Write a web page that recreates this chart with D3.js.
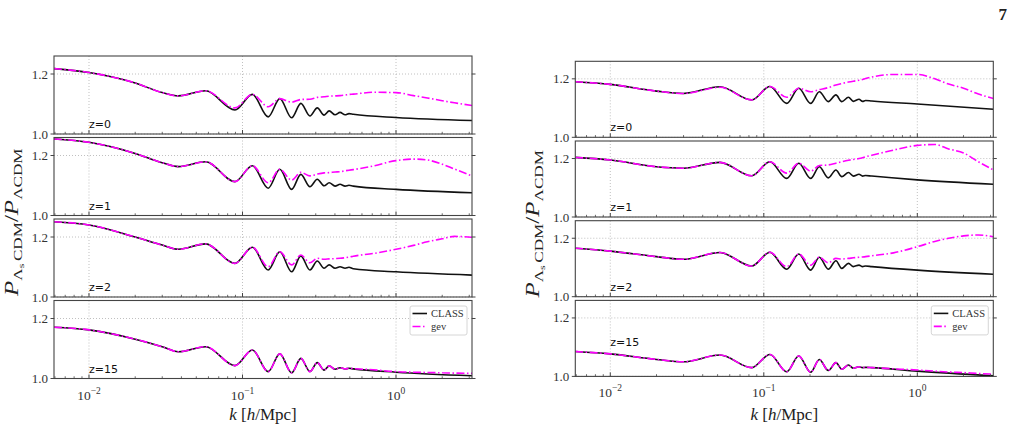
<!DOCTYPE html>
<html><head><meta charset="utf-8">
<script src="https://cdn.jsdelivr.net/npm/d3@7"></script>
<style>body{margin:0;background:#fff} svg{display:block}</style>
</head><body>
<svg id="c" width="1016" height="430"></svg>
<script>
// ---------- data ----------
const kTicks = [0.01, 0.1, 1];
const kTickExp = ["\u22122", "\u22121", "0"];
const yTicks = [1.0, 1.2];
const yTickLabels = ["1.0", "1.2"];
const zLabels = ["z=0", "z=1", "z=2", "z=15"];
const zLabelYLeft = [1.02, 1.02, 1.02, 1.02];
const zLabelYRight = [1.02, 1.02, 1.02, 1.105];
const seriesNames = ["CLASS", "gev"];
const kDomain = [0.005916, 3.126];
const yDomain = [1.0, 1.26];
const pageNumber = "7";

// left figure
const kClassL = [0.0059, 0.01, 0.02, 0.03, 0.0382, 0.0575, 0.0893, 0.116, 0.147, 0.175, 0.209, 0.240, 0.275, 0.307, 0.340, 0.367, 0.401, 0.432, 0.466, 0.494, 0.527, 1.0, 3.13];
const classL0  = [1.218, 1.205, 1.170, 1.138, 1.127, 1.144, 1.080, 1.132, 1.057, 1.118, 1.054, 1.102, 1.060, 1.087, 1.063, 1.077, 1.064, 1.072, 1.064, 1.068, 1.066, 1.055, 1.045];
const classL1  = [1.255, 1.244, 1.207, 1.176, 1.163, 1.179, 1.113, 1.166, 1.091, 1.154, 1.087, 1.137, 1.096, 1.121, 1.099, 1.109, 1.098, 1.104, 1.098, 1.101, 1.098, 1.087, 1.076];
const classL2  = [1.251, 1.240, 1.200, 1.173, 1.159, 1.177, 1.112, 1.166, 1.090, 1.151, 1.084, 1.137, 1.090, 1.120, 1.096, 1.107, 1.096, 1.101, 1.096, 1.099, 1.094, 1.084, 1.073];
const classL15 = [1.171, 1.162, 1.131, 1.106, 1.089, 1.106, 1.043, 1.095, 1.023, 1.082, 1.019, 1.067, 1.023, 1.053, 1.028, 1.042, 1.031, 1.036, 1.032, 1.034, 1.032, 1.021, 1.009];

const kGevL = [0.0059, 0.01, 0.02, 0.03, 0.0382, 0.0575, 0.0893, 0.116, 0.147, 0.175, 0.209, 0.240, 0.275, 0.307, 0.340, 0.367, 0.401, 0.432, 0.466, 0.494, 0.527, 0.71, 1.0, 1.3, 1.6, 2.0, 2.4, 3.13];
const gevL0  = [1.218, 1.205, 1.170, 1.138, 1.127, 1.144, 1.087, 1.132, 1.091, 1.118, 1.106, 1.115, 1.116, 1.122, 1.124, 1.126, 1.127, 1.128, 1.130, 1.132, 1.133, 1.139, 1.138, 1.128, 1.120, 1.111, 1.104, 1.095];
const gevL1  = [1.255, 1.244, 1.207, 1.176, 1.163, 1.179, 1.113, 1.166, 1.109, 1.154, 1.118, 1.144, 1.132, 1.138, 1.142, 1.143, 1.145, 1.146, 1.149, 1.151, 1.153, 1.165, 1.183, 1.188, 1.185, 1.171, 1.155, 1.132];
const gevL2  = [1.251, 1.240, 1.200, 1.173, 1.159, 1.177, 1.112, 1.166, 1.101, 1.151, 1.107, 1.140, 1.114, 1.129, 1.126, 1.127, 1.128, 1.129, 1.131, 1.133, 1.136, 1.145, 1.159, 1.172, 1.184, 1.194, 1.202, 1.199];
const gevL15 = [1.171, 1.162, 1.131, 1.106, 1.089, 1.106, 1.043, 1.095, 1.023, 1.082, 1.019, 1.067, 1.023, 1.053, 1.028, 1.042, 1.031, 1.036, 1.032, 1.034, 1.033, 1.029, 1.023, 1.021, 1.020, 1.019, 1.018, 1.017];

// right figure
const kClassR = [0.0059, 0.01, 0.02, 0.0299, 0.0518, 0.0834, 0.1096, 0.141, 0.169, 0.202, 0.230, 0.263, 0.295, 0.322, 0.356, 0.383, 0.417, 0.44, 0.46, 0.505, 1.0, 3.13];
const classR0  = [1.190, 1.181, 1.158, 1.150, 1.173, 1.128, 1.174, 1.116, 1.168, 1.116, 1.156, 1.122, 1.145, 1.122, 1.137, 1.123, 1.130, 1.123, 1.126, 1.124, 1.114, 1.096];
const classR1  = [1.204, 1.195, 1.172, 1.167, 1.187, 1.141, 1.189, 1.132, 1.184, 1.132, 1.172, 1.134, 1.161, 1.138, 1.152, 1.140, 1.146, 1.140, 1.142, 1.140, 1.127, 1.112];
const classR2  = [1.166, 1.156, 1.137, 1.128, 1.151, 1.105, 1.152, 1.094, 1.146, 1.091, 1.135, 1.094, 1.123, 1.097, 1.114, 1.103, 1.108, 1.103, 1.105, 1.103, 1.091, 1.077];
const classR15 = [1.085, 1.077, 1.058, 1.050, 1.073, 1.030, 1.075, 1.016, 1.070, 1.014, 1.058, 1.020, 1.047, 1.025, 1.039, 1.028, 1.033, 1.030, 1.031, 1.030, 1.018, 1.002];

const kGevR = [0.0059, 0.01, 0.02, 0.0299, 0.0518, 0.0834, 0.1096, 0.141, 0.169, 0.202, 0.230, 0.263, 0.295, 0.322, 0.356, 0.383, 0.417, 0.44, 0.46, 0.505, 0.7, 1.0, 1.3, 1.6, 2.0, 2.5, 3.13];
const gevR0  = [1.190, 1.181, 1.158, 1.150, 1.171, 1.128, 1.174, 1.137, 1.168, 1.156, 1.163, 1.170, 1.179, 1.184, 1.189, 1.192, 1.195, 1.198, 1.201, 1.206, 1.215, 1.215, 1.200, 1.182, 1.168, 1.148, 1.133];
const gevR1  = [1.204, 1.195, 1.172, 1.167, 1.187, 1.141, 1.189, 1.150, 1.184, 1.157, 1.176, 1.178, 1.184, 1.189, 1.194, 1.197, 1.200, 1.203, 1.206, 1.211, 1.229, 1.245, 1.248, 1.233, 1.219, 1.189, 1.161];
const gevR2  = [1.166, 1.156, 1.137, 1.128, 1.151, 1.105, 1.152, 1.103, 1.146, 1.108, 1.135, 1.116, 1.131, 1.129, 1.131, 1.133, 1.135, 1.136, 1.137, 1.140, 1.150, 1.171, 1.189, 1.200, 1.208, 1.211, 1.205];
const gevR15 = [1.085, 1.077, 1.058, 1.050, 1.073, 1.030, 1.075, 1.016, 1.070, 1.014, 1.058, 1.020, 1.047, 1.025, 1.039, 1.028, 1.033, 1.030, 1.031, 1.030, 1.026, 1.022, 1.018, 1.015, 1.013, 1.010, 1.008];

// ---------- layout ----------
const svg = d3.select("#c");
const SERIF = "'Liberation Serif','DejaVu Serif',serif";
const SANS = "'DejaVu Sans',sans-serif";
const zip = (ks, vs) => ks.map((k, i) => [k, vs[i]]);

const figures = [
  { x0: 54, x1: 472, tops: [56, 137.5, 219, 300.5], h: 78,
    kC: kClassL, kG: kGevL, cls: [classL0, classL1, classL2, classL15], gev: [gevL0, gevL1, gevL2, gevL15],
    zY: zLabelYLeft, ylabX: 18, xlabY: 420 },
  { x0: 575.3, x1: 993.3, tops: [61.3, 141, 220.7, 300.4], h: 76,
    kC: kClassR, kG: kGevR, cls: [classR0, classR1, classR2, classR15], gev: [gevR0, gevR1, gevR2, gevR15],
    zY: zLabelYRight, ylabX: 539, xlabY: 420 }
];

const defs = svg.append("defs");
let clipId = 0;

figures.forEach(fig => {
  const x = d3.scaleLog().domain(kDomain).range([fig.x0, fig.x1]);
  const allTicks = x.ticks();
  const minor = allTicks.filter(t => !kTicks.some(m => Math.abs(m - t) / m < 1e-6));
  fig.tops.forEach((top, pi) => {
    const bottom = top + fig.h;
    const y = d3.scaleLinear().domain(yDomain).range([bottom, top]);
    const g = svg.append("g");
    const id = "clip" + (clipId++);
    defs.append("clipPath").attr("id", id).append("rect")
      .attr("x", fig.x0).attr("y", top).attr("width", fig.x1 - fig.x0).attr("height", fig.h);

    // grid
    g.selectAll(".gx").data(kTicks).join("line")
      .attr("x1", d => x(d)).attr("x2", d => x(d)).attr("y1", top).attr("y2", bottom)
      .attr("stroke", "#b0b0b0").attr("stroke-width", 0.8).attr("stroke-dasharray", "1,2");
    g.selectAll(".gy").data(yTicks).join("line")
      .attr("x1", fig.x0).attr("x2", fig.x1).attr("y1", d => y(d)).attr("y2", d => y(d))
      .attr("stroke", "#b0b0b0").attr("stroke-width", 0.8).attr("stroke-dasharray", "1,2");

    // lines
    const line = d3.line().x(d => x(d[0])).y(d => y(d[1])).curve(d3.curveMonotoneX);
    const lg = g.append("g").attr("clip-path", `url(#${id})`);
    lg.append("path").attr("d", line(zip(fig.kC, fig.cls[pi])))
      .attr("fill", "none").attr("stroke", "#111").attr("stroke-width", 1.6);
    lg.append("path").attr("d", line(zip(fig.kG, fig.gev[pi])))
      .attr("fill", "none").attr("stroke", "#ff00ff").attr("stroke-width", 1.6)
      .attr("stroke-dasharray", "8,2.5,1.5,2.5");

    // frame
    g.append("rect").attr("x", fig.x0).attr("y", top).attr("width", fig.x1 - fig.x0).attr("height", fig.h)
      .attr("fill", "none").attr("stroke", "#444").attr("stroke-width", 1.1);

    // x ticks (inward at bottom)
    g.selectAll(".mt").data(kTicks).join("line")
      .attr("x1", d => x(d)).attr("x2", d => x(d)).attr("y1", bottom).attr("y2", bottom - 4)
      .attr("stroke", "#444").attr("stroke-width", 1);
    g.selectAll(".nt").data(minor).join("line")
      .attr("x1", d => x(d)).attr("x2", d => x(d)).attr("y1", bottom).attr("y2", bottom - 2.2)
      .attr("stroke", "#444").attr("stroke-width", 0.8);

    // y ticks (out, both sides)
    g.selectAll(".yl").data(yTicks).join("line")
      .attr("x1", fig.x0 - 3.5).attr("x2", fig.x0).attr("y1", d => y(d)).attr("y2", d => y(d))
      .attr("stroke", "#444").attr("stroke-width", 1);
    g.selectAll(".yr").data(yTicks).join("line")
      .attr("x1", fig.x1).attr("x2", fig.x1 + 3.5).attr("y1", d => y(d)).attr("y2", d => y(d))
      .attr("stroke", "#444").attr("stroke-width", 1);
    g.selectAll(".ytl").data(yTicks).join("text")
      .attr("x", fig.x0 - 6).attr("y", d => y(d) + 4.5).attr("text-anchor", "end")
      .style("font-family", SERIF).style("font-size", "13px").attr("fill", "#333")
      .text((d, i) => yTickLabels[i]);

    // z label
    g.append("text").attr("x", x(0.01)).attr("y", y(fig.zY[pi]))
      .style("font-family", SANS).style("font-size", "11px").attr("fill", "#111")
      .text(zLabels[pi]);

    if (pi === fig.tops.length - 1) {
      // x tick labels
      kTicks.forEach((t, i) => {
        const tx = g.append("text").attr("x", x(t)).attr("y", bottom + 21).attr("text-anchor", "middle")
          .style("font-family", SERIF).style("font-size", "13.5px").attr("fill", "#333");
        tx.append("tspan").text("10");
        tx.append("tspan").text(kTickExp[i]).attr("dy", -6).style("font-size", "9.5px");
      });
      // legend
      const bw = 57, bh = 29, bx = fig.x1 - 5 - bw, by = top + 5.5;
      g.append("rect").attr("x", bx).attr("y", by).attr("width", bw).attr("height", bh).attr("rx", 2)
        .attr("fill", "#fff").attr("fill-opacity", 0.85).attr("stroke", "#ccc").attr("stroke-width", 0.8);
      seriesNames.forEach((nm, i) => {
        const ly = by + 7.5 + i * 13;
        const l = g.append("line").attr("x1", bx + 2.5).attr("x2", bx + 17).attr("y1", ly).attr("y2", ly)
          .attr("stroke", i === 0 ? "#111" : "#ff00ff").attr("stroke-width", 1.6);
        if (i === 1) l.attr("stroke-dasharray", "8,2.5,1.5,2.5");
        g.append("text").attr("x", bx + 21).attr("y", ly + 3.5)
          .style("font-family", SERIF).style("font-size", "10.5px").attr("fill", "#333").text(nm);
      });
    }
  });

  // x axis label
  const cx = (fig.x0 + fig.x1) / 2;
  const xl = svg.append("text").attr("x", cx).attr("y", fig.xlabY).attr("text-anchor", "middle")
    .style("font-family", SERIF).style("font-size", "17px").attr("fill", "#222");
  xl.append("tspan").text("k").style("font-style", "italic");
  xl.append("tspan").text(" [");
  xl.append("tspan").text("h").style("font-style", "italic");
  xl.append("tspan").text("/Mpc]");

  // y axis label
  const cy = (fig.tops[0] + fig.tops[3] + fig.h) / 2 + 5;
  const yl = svg.append("text").attr("text-anchor", "middle")
    .style("font-family", SERIF).style("font-size", "19px").attr("fill", "#222");
  yl.append("tspan").text("P").style("font-style", "italic");
  yl.append("tspan").text("\u039B").attr("dy", 4).style("font-size", "13px");
  yl.append("tspan").text("s").attr("dy", 2).style("font-size", "9px");
  yl.append("tspan").text("CDM").attr("dy", -2).attr("dx", 2).style("font-size", "13px");
  yl.append("tspan").text("/").attr("dy", -4);
  yl.append("tspan").text("P").style("font-style", "italic");
  yl.append("tspan").text("\u039BCDM").attr("dy", 4).style("font-size", "13px");
  const len = yl.node().getComputedTextLength();
  const sx = Math.max(0.8, Math.min(1.4, 145 / len));
  yl.attr("transform", `translate(${fig.ylabX},${cy}) rotate(-90) scale(${sx},1)`);
});

svg.append("text").attr("x", 1007).attr("y", 20).attr("text-anchor", "end")
  .style("font-family", SERIF).style("font-size", "17px").style("font-weight", "bold").attr("fill", "#222")
  .text(pageNumber);
</script>
</body></html>
